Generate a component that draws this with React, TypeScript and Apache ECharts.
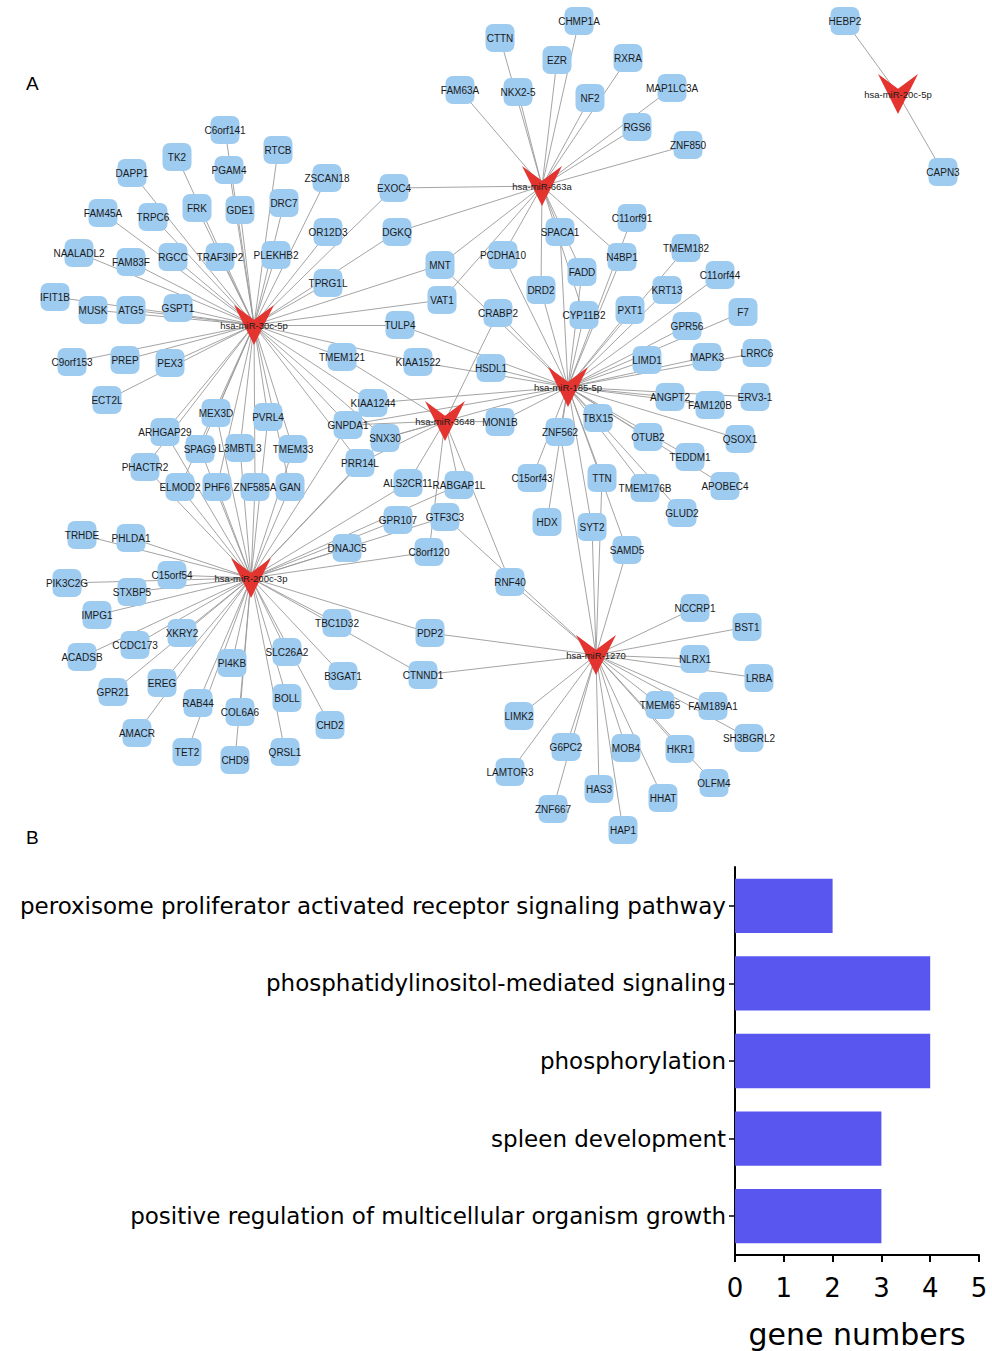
import React, { useEffect, useRef } from "react";
import * as echarts from "echarts";

// ---------- Panel A: network ----------
const MIRNAS: [string, number, number][] = [
  ["hsa-miR-663a", 542, 186],
  ["hsa-miR-30c-5p", 254, 325],
  ["hsa-miR-185-5p", 568, 387],
  ["hsa-miR-3648", 445, 421],
  ["hsa-miR-200c-3p", 251, 578],
  ["hsa-miR-1270", 596, 655],
  ["hsa-miR-20c-5p", 898, 94],
];

const GENES: [string, number, number][] = [
  ["CTTN", 500, 38], ["CHMP1A", 579, 21], ["EZR", 557, 60], ["RXRA", 628, 58],
  ["FAM63A", 460, 90], ["NKX2-5", 518, 92], ["NF2", 590, 98], ["MAP1LC3A", 672, 88],
  ["RGS6", 637, 127], ["ZNF850", 688, 145], ["EXOC4", 394, 188], ["DGKQ", 397, 232],
  ["MNT", 440, 265], ["PCDHA10", 503, 255], ["SPACA1", 560, 232], ["C11orf91", 632, 218],
  ["N4BP1", 622, 257], ["TMEM182", 686, 248], ["FADD", 582, 272], ["C11orf44", 720, 275],
  ["DRD2", 541, 290], ["KRT13", 667, 290], ["CYP11B2", 584, 315], ["PXT1", 630, 310],
  ["F7", 743, 312], ["GPR56", 687, 326], ["LIMD1", 647, 360], ["MAPK3", 707, 357],
  ["LRRC6", 757, 353], ["ANGPT2", 670, 397], ["FAM120B", 710, 405], ["ERV3-1", 755, 397],
  ["VAT1", 442, 300], ["CRABP2", 498, 313], ["TULP4", 400, 325], ["TMEM121", 342, 357],
  ["KIAA1522", 418, 362], ["HSDL1", 491, 368], ["KIAA1244", 373, 403], ["MON1B", 500, 422],
  ["GNPDA1", 348, 425], ["SNX30", 385, 438], ["ZNF562", 560, 432], ["PRR14L", 360, 463],
  ["ALS2CR11", 408, 483], ["RABGAP1L", 459, 485], ["C15orf43", 532, 478], ["TBX15", 598, 418],
  ["OTUB2", 648, 437], ["QSOX1", 740, 439], ["TEDDM1", 690, 457], ["TTN", 602, 478],
  ["TMEM176B", 645, 488], ["APOBEC4", 725, 486], ["HDX", 547, 522], ["GLUD2", 682, 513],
  ["SYT2", 592, 527], ["SAMD5", 627, 550], ["GPR107", 398, 520], ["GTF3C3", 445, 517],
  ["DNAJC5", 347, 548], ["C8orf120", 429, 552], ["RNF40", 510, 582], ["TBC1D32", 337, 623],
  ["PDP2", 430, 633], ["B3GAT1", 343, 676], ["CTNND1", 423, 675], ["CHD2", 330, 725],
  ["C6orf141", 225, 130], ["RTCB", 278, 150], ["TK2", 177, 157], ["PGAM4", 229, 170],
  ["DAPP1", 132, 173], ["ZSCAN18", 327, 178], ["DRC7", 284, 203], ["FRK", 197, 208],
  ["GDE1", 240, 210], ["FAM45A", 103, 213], ["TRPC6", 153, 217], ["OR12D3", 328, 232],
  ["NAALADL2", 79, 253], ["FAM83F", 131, 262], ["RGCC", 173, 257], ["TRAF3IP2", 220, 257],
  ["PLEKHB2", 276, 255], ["TPRG1L", 328, 283], ["IFIT1B", 55, 297], ["MUSK", 93, 310],
  ["ATG5", 131, 310], ["GSPT1", 178, 308], ["C9orf153", 72, 362], ["PREP", 125, 360],
  ["PEX3", 170, 363], ["ECT2L", 107, 400], ["MEX3D", 216, 413], ["PVRL4", 268, 417],
  ["ARHGAP29", 165, 432], ["SPAG9", 200, 449], ["L3MBTL3", 240, 448], ["TMEM33", 293, 449],
  ["PHACTR2", 145, 467], ["ELMOD2", 180, 487], ["PHF6", 217, 487], ["ZNF585A", 255, 487],
  ["GAN", 290, 487],
  ["TRHDE", 82, 535], ["PHLDA1", 131, 538], ["C15orf54", 172, 575], ["PIK3C2G", 67, 583],
  ["STXBP5", 132, 592], ["IMPG1", 97, 615], ["XKRY2", 182, 633], ["CCDC173", 135, 645],
  ["ACADSB", 82, 657], ["SLC26A2", 287, 652], ["PI4KB", 232, 663], ["EREG", 162, 683],
  ["GPR21", 113, 692], ["BOLL", 287, 698], ["RAB44", 198, 703], ["COL6A6", 240, 712],
  ["AMACR", 137, 733], ["TET2", 187, 752], ["QRSL1", 285, 752], ["CHD9", 235, 760],
  ["NCCRP1", 695, 608], ["BST1", 747, 627], ["NLRX1", 695, 659], ["LRBA", 759, 678],
  ["TMEM65", 660, 705], ["FAM189A1", 713, 706], ["LIMK2", 519, 716], ["SH3BGRL2", 749, 738],
  ["G6PC2", 566, 747], ["MOB4", 626, 748], ["HKR1", 680, 749], ["LAMTOR3", 510, 772],
  ["OLFM4", 714, 783], ["HAS3", 599, 789], ["HHAT", 663, 798], ["ZNF667", 553, 809],
  ["HAP1", 623, 830],
  ["HEBP2", 845, 21], ["CAPN3", 943, 172],
];

const T_663A = ["CTTN", "CHMP1A", "EZR", "RXRA", "FAM63A", "NKX2-5", "NF2", "MAP1LC3A", "RGS6",
  "ZNF850", "EXOC4", "DGKQ", "MNT", "PCDHA10", "SPACA1", "N4BP1", "DRD2", "FADD", "CYP11B2", "VAT1"];
const T_185 = ["SPACA1", "FADD", "DRD2", "CYP11B2", "N4BP1", "C11orf91", "PXT1", "KRT13", "TMEM182",
  "C11orf44", "F7", "GPR56", "LIMD1", "MAPK3", "LRRC6", "ANGPT2", "FAM120B", "ERV3-1", "QSOX1",
  "TBX15", "OTUB2", "TEDDM1", "APOBEC4", "TMEM176B", "GLUD2", "TTN", "SYT2", "HDX", "C15orf43",
  "ZNF562", "MON1B", "HSDL1", "KIAA1522", "TULP4", "CRABP2", "PCDHA10", "MNT", "KIAA1244",
  "GNPDA1", "SNX30", "SAMD5"];
const T_3648 = ["TMEM121", "GNPDA1", "SNX30", "MON1B", "ALS2CR11", "RABGAP1L", "CRABP2", "C8orf120",
  "RNF40", "PRR14L"];
const T_30C = ["C6orf141", "RTCB", "TK2", "PGAM4", "DAPP1", "ZSCAN18", "DRC7", "FRK", "GDE1", "FAM45A",
  "TRPC6", "OR12D3", "NAALADL2", "FAM83F", "RGCC", "TRAF3IP2", "PLEKHB2", "TPRG1L", "IFIT1B", "MUSK",
  "ATG5", "GSPT1", "C9orf153", "PREP", "PEX3", "ECT2L", "MEX3D", "PVRL4", "ARHGAP29", "SPAG9",
  "L3MBTL3", "TMEM33", "PHACTR2", "ELMOD2", "PHF6", "ZNF585A", "GAN", "EXOC4", "DGKQ", "MNT", "VAT1",
  "TULP4", "TMEM121", "KIAA1522", "KIAA1244", "GNPDA1", "SNX30", "PRR14L"];
const T_200C = ["TRHDE", "PHLDA1", "C15orf54", "PIK3C2G", "STXBP5", "IMPG1", "XKRY2", "CCDC173",
  "ACADSB", "SLC26A2", "PI4KB", "EREG", "GPR21", "BOLL", "RAB44", "COL6A6", "AMACR", "TET2", "QRSL1",
  "CHD9", "CHD2", "B3GAT1", "TBC1D32", "PDP2", "CTNND1", "DNAJC5", "C8orf120", "GPR107", "GTF3C3",
  "ALS2CR11", "PRR14L", "SNX30", "GNPDA1", "MEX3D", "PVRL4", "ARHGAP29", "SPAG9", "L3MBTL3", "TMEM33",
  "PHACTR2", "ELMOD2", "PHF6", "ZNF585A", "GAN", "RABGAP1L"];
const T_1270 = ["NCCRP1", "BST1", "NLRX1", "LRBA", "TMEM65", "FAM189A1", "SH3BGRL2", "HKR1", "OLFM4",
  "MOB4", "HHAT", "HAS3", "HAP1", "G6PC2", "ZNF667", "LIMK2", "LAMTOR3", "PDP2", "CTNND1", "RNF40",
  "GTF3C3", "TTN", "SYT2", "SAMD5", "ZNF562"];
const T_20C = ["HEBP2", "CAPN3"];

const HUB_TARGETS: [string, string[]][] = [
  ["hsa-miR-663a", T_663A],
  ["hsa-miR-185-5p", T_185],
  ["hsa-miR-3648", T_3648],
  ["hsa-miR-30c-5p", T_30C],
  ["hsa-miR-200c-3p", T_200C],
  ["hsa-miR-1270", T_1270],
  ["hsa-miR-20c-5p", T_20C],
];

// ---------- Panel B: bar chart ----------
const TERMS = [
  "peroxisome proliferator activated receptor signaling pathway",
  "phosphatidylinositol-mediated signaling",
  "phosphorylation",
  "spleen development",
  "positive regulation of multicellular organism growth",
];
const GENE_COUNTS = [2, 4, 4, 3, 3];

const V_PATH = "path://M0,0 L50,37 L100,0 L50,100 Z";

export default function App() {
  const ref = useRef<HTMLDivElement>(null);
  useEffect(() => {
    const chart = echarts.init(ref.current!, null, { renderer: "svg" });
    const netFont = "'Liberation Sans', Arial, Helvetica, sans-serif";
    const barFont = "'DejaVu Sans', 'Liberation Sans', Arial, sans-serif";

    const nodes: any[] = [
      ...GENES.map(([name, x, y]) => ({
        name,
        value: [x, y],
        symbol: "roundRect",
        symbolSize: [29, 28],
        itemStyle: { color: "#9ecbf0" },
        label: { fontSize: 10 },
      })),
      ...MIRNAS.map(([name, x, y]) => ({
        name,
        value: [x, y],
        symbol: V_PATH,
        symbolSize: [40, 40],
        itemStyle: { color: "#e3342f" },
        label: { fontSize: 9.5 },
      })),
    ];
    const names = new Set(nodes.map((n) => n.name));
    const seen = new Set<string>();
    const links: any[] = [];
    HUB_TARGETS.forEach(([hub, genes]) => {
      genes.forEach((g) => {
        const k = hub + "|" + g;
        if (!seen.has(k) && names.has(g) && names.has(hub)) {
          seen.add(k);
          links.push({ source: g, target: hub });
        }
      });
    });

    chart.setOption({
      animation: false,
      backgroundColor: "#ffffff",
      grid: [
        { left: 0, top: 0, width: 992, height: 1351 },
        { left: 735, top: 867, width: 244, height: 388 },
      ],
      xAxis: [
        { gridIndex: 0, type: "value", min: 0, max: 992, show: false },
        {
          gridIndex: 1,
          type: "value",
          min: 0,
          max: 5,
          interval: 1,
          axisLine: { show: true, lineStyle: { color: "#000", width: 2 } },
          axisTick: { show: true, length: 7, lineStyle: { color: "#000", width: 2 } },
          axisLabel: { color: "#000", fontSize: 26, fontFamily: barFont, margin: 20 },
          splitLine: { show: false },
          name: "gene numbers",
          nameLocation: "middle",
          nameGap: 64,
          nameTextStyle: { color: "#000", fontSize: 30, fontFamily: barFont },
        },
      ],
      yAxis: [
        { gridIndex: 0, type: "value", min: 0, max: 1351, inverse: true, show: false },
        {
          gridIndex: 1,
          type: "category",
          inverse: true,
          data: TERMS,
          axisLine: { show: true, lineStyle: { color: "#000", width: 2 } },
          axisTick: { show: true, length: 6, alignWithLabel: true, lineStyle: { color: "#000", width: 1.5 } },
          axisLabel: { color: "#000", fontSize: 23, fontFamily: barFont, margin: 9 },
        },
      ],
      graphic: [
        { type: "text", left: 26, top: 74, style: { text: "A", fontSize: 19, fontFamily: netFont, fill: "#000" } },
        { type: "text", left: 26, top: 828, style: { text: "B", fontSize: 19, fontFamily: netFont, fill: "#000" } },
      ],
      series: [
        {
          type: "graph",
          layout: "none",
          coordinateSystem: "cartesian2d",
          xAxisIndex: 0,
          yAxisIndex: 0,
          data: nodes,
          links,
          label: {
            show: true,
            position: "inside",
            color: "#1a1a1a",
            fontFamily: netFont,
          },
          lineStyle: { color: "#9a9a9a", width: 0.9, opacity: 1, curveness: 0 },
          emphasis: { disabled: true },
          z: 2,
        },
        {
          type: "bar",
          xAxisIndex: 1,
          yAxisIndex: 1,
          data: GENE_COUNTS,
          barCategoryGap: "30%",
          itemStyle: { color: "#5856ee" },
        },
      ],
    });
    return () => chart.dispose();
  }, []);
  return (
    <div
      ref={ref}
      style={{ position: "absolute", left: 0, top: 0, width: 992, height: 1351, background: "#fff" }}
    />
  );
}
